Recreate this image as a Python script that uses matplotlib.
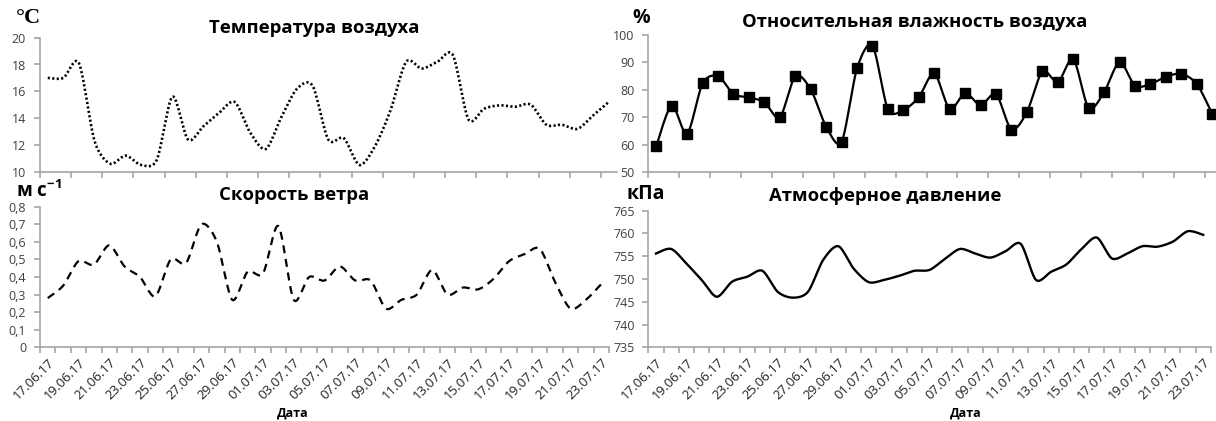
import numpy as np
import matplotlib
matplotlib.use("Agg")
import matplotlib.pyplot as plt
from matplotlib.ticker import FixedLocator, FuncFormatter

plt.rcParams['font.family'] = ['Open Sans', 'DejaVu Sans']
plt.rcParams['mathtext.default'] = 'regular'

# --- daily series, 17.06.17 - 23.07.17 ---
dates = ["17.06.17", "18.06.17", "19.06.17", "20.06.17", "21.06.17", "22.06.17",
         "23.06.17", "24.06.17", "25.06.17", "26.06.17", "27.06.17", "28.06.17",
         "29.06.17", "30.06.17", "01.07.17", "02.07.17", "03.07.17", "04.07.17",
         "05.07.17", "06.07.17", "07.07.17", "08.07.17", "09.07.17", "10.07.17",
         "11.07.17", "12.07.17", "13.07.17", "14.07.17", "15.07.17", "16.07.17",
         "17.07.17", "18.07.17", "19.07.17", "20.07.17", "21.07.17", "22.07.17",
         "23.07.17"]

temperature = [17.0, 17.0, 18.1, 12.3, 10.6, 11.2, 10.5, 10.9, 15.6, 12.4,
               13.4, 14.4, 15.2, 12.9, 11.7, 14.1, 16.2, 16.4, 12.4, 12.5,
               10.5, 11.9, 14.6, 18.2, 17.7, 18.2, 18.7, 13.9, 14.7, 14.95,
               14.85, 15.0, 13.5, 13.5, 13.2, 14.2, 15.2]

humidity = [59.4, 74.2, 64.0, 82.3, 85.0, 78.5, 77.2, 75.5, 69.9, 85.0,
            80.2, 66.6, 61.0, 87.8, 96.1, 72.9, 72.6, 77.3, 86.0, 73.0,
            78.8, 74.4, 78.4, 65.5, 71.9, 86.7, 82.8, 91.2, 73.3, 79.2,
            90.1, 81.5, 82.1, 84.8, 85.8, 82.1, 71.2]

wind = [0.28, 0.35, 0.49, 0.47, 0.58, 0.46, 0.40, 0.29, 0.50, 0.48,
        0.70, 0.60, 0.27, 0.43, 0.42, 0.69, 0.27, 0.40, 0.38, 0.46,
        0.38, 0.38, 0.22, 0.27, 0.30, 0.44, 0.30, 0.34, 0.33, 0.39,
        0.49, 0.53, 0.56, 0.37, 0.22, 0.27, 0.36]

pressure = [755.6, 756.6, 753.4, 749.8, 746.1, 749.4, 750.5, 751.8, 747.2, 745.9,
            747.2, 754.2, 757.2, 752.3, 749.3, 749.8, 750.7, 751.8, 752.0, 754.4,
            756.6, 755.6, 754.7, 756.1, 757.7, 749.8, 751.6, 753.2, 756.6, 759.1,
            754.5, 755.6, 757.2, 757.1, 758.2, 760.5, 759.7]


def smooth(y, n=20, k=7.0):
    # Bezier smoothing through every point (tangent = neighbour difference / k)
    y = np.asarray(y, dtype=float)
    x = np.arange(len(y), dtype=float)
    xp = np.concatenate([[x[0]], x, [x[-1]]])
    yp = np.concatenate([[y[0]], y, [y[-1]]])
    xs, ys = [], []
    t = np.linspace(0, 1, n, endpoint=False)
    for i in range(len(y) - 1):
        p0x, p0y = x[i], y[i]
        p3x, p3y = x[i + 1], y[i + 1]
        c1x = p0x + (xp[i + 2] - xp[i]) / k
        c1y = p0y + (yp[i + 2] - yp[i]) / k
        c2x = p3x - (xp[i + 3] - xp[i + 1]) / k
        c2y = p3y - (yp[i + 3] - yp[i + 1]) / k
        b0 = (1 - t) ** 3
        b1 = 3 * (1 - t) ** 2 * t
        b2 = 3 * (1 - t) * t ** 2
        b3 = t ** 3
        xs.append(b0 * p0x + b1 * c1x + b2 * c2x + b3 * p3x)
        ys.append(b0 * p0y + b1 * c1y + b2 * c2y + b3 * p3y)
    xs.append([x[-1]])
    ys.append([y[-1]])
    return np.concatenate(xs), np.concatenate(ys)


W, H = 1216, 421
fig = plt.figure(figsize=(W / 100, H / 100), dpi=100)


def panel(left, top, right, bottom):
    return fig.add_axes([left / W, 1 - bottom / H, (right - left) / W, (bottom - top) / H])


GRAY = '#a6a6a6'
TXT = '#404040'
n = len(dates)


def style(ax, yticks, ymin, ymax, fmt=None, labels=True):
    for s in ['top', 'right']:
        ax.spines[s].set_visible(False)
    for s in ['left', 'bottom']:
        ax.spines[s].set_color(GRAY)
        ax.spines[s].set_linewidth(1.2)
    ax.set_ylim(ymin, ymax)
    ax.set_xlim(-0.5, n - 0.5)
    ax.set_yticks(yticks)
    if fmt:
        ax.yaxis.set_major_formatter(FuncFormatter(fmt))
    ax.tick_params(axis='y', colors=GRAY, labelcolor=TXT, labelsize=9,
                   length=4, width=1.2, pad=6)
    if labels:
        ax.xaxis.set_minor_locator(FixedLocator(np.arange(n + 1) - 0.5))
        ax.set_xticks(np.arange(0, n, 2))
        ax.set_xticklabels(dates[::2], rotation=45, ha='right', va='top',
                           rotation_mode='anchor')
        ax.tick_params(axis='x', which='major', length=0, labelsize=9.5,
                       labelcolor='#202020', pad=6)
        ax.tick_params(axis='x', which='minor', length=4, width=1.2, colors=GRAY)
    else:
        ax.set_xticks(np.arange(0, n + 1, 2) - 0.5)
        ax.set_xticklabels([])
        ax.tick_params(axis='x', length=4, width=1.2, colors=GRAY)


# temperature
ax1 = panel(40, 37.7, 616.5, 171.7)
style(ax1, np.arange(10, 21, 2), 10, 20, labels=False)
xs, ys = smooth(temperature)
ax1.plot(xs, ys, color='black', lw=1.9, linestyle=(0, (0.8, 0.9)))

# humidity
ax2 = panel(648.5, 35, 1220, 172)
style(ax2, np.arange(50, 101, 10), 50, 100, labels=False)
xs, ys = smooth(humidity)
ax2.plot(xs, ys, color='black', lw=1.6)
ax2.plot(np.arange(n), humidity, 's', color='black', markersize=6.5)

# wind speed
ax3 = panel(40, 206.7, 609, 347.3)
style(ax3, np.arange(0, 0.81, 0.1), 0, 0.8,
      fmt=lambda v, p: '0' if abs(v) < 1e-9 else f'{v:.1f}'.replace('.', ','))
xs, ys = smooth(wind)
ax3.plot(xs, ys, color='black', lw=1.6, linestyle=(0, (3.6, 2.6)))

# pressure
ax4 = panel(648.4, 210.7, 1210.8, 347.3)
style(ax4, np.arange(735, 766, 5), 735, 765)
xs, ys = smooth(pressure)
ax4.plot(xs, ys, color='black', lw=1.7)

# titles, units, axis names
fig.text(314 / W, 1 - 28 / H, 'Температура воздуха', fontsize=13.3,
         fontweight='bold', ha='center', va='center')
fig.text(915 / W, 1 - 22 / H, 'Относительная влажность воздуха', fontsize=13.3,
         fontweight='bold', ha='center', va='center')
fig.text(294 / W, 1 - 195 / H, 'Скорость ветра', fontsize=13.3,
         fontweight='bold', ha='center', va='center')
fig.text(885 / W, 1 - 196 / H, 'Атмосферное давление', fontsize=13.3,
         fontweight='bold', ha='center', va='center')

fig.text(16 / W, 1 - 18 / H, '°C', fontsize=16, fontweight='bold',
         family='Liberation Serif', ha='left', va='center')
fig.text(632 / W, 1 - 18 / H, '%', fontsize=14, fontweight='bold',
         ha='left', va='center')
fig.text(16 / W, 1 - 191 / H, 'м с$^{-1}$', fontsize=13.5, fontweight='bold',
         ha='left', va='center')
fig.text(627 / W, 1 - 194 / H, 'кПа', fontsize=14, fontweight='bold',
         ha='left', va='center')

fig.text(293 / W, 1 - 413 / H, 'Дата', fontsize=9, fontweight='bold',
         ha='center', va='center')
fig.text(966 / W, 1 - 413 / H, 'Дата', fontsize=9, fontweight='bold',
         ha='center', va='center')

fig.savefig('out.png', dpi=100)
